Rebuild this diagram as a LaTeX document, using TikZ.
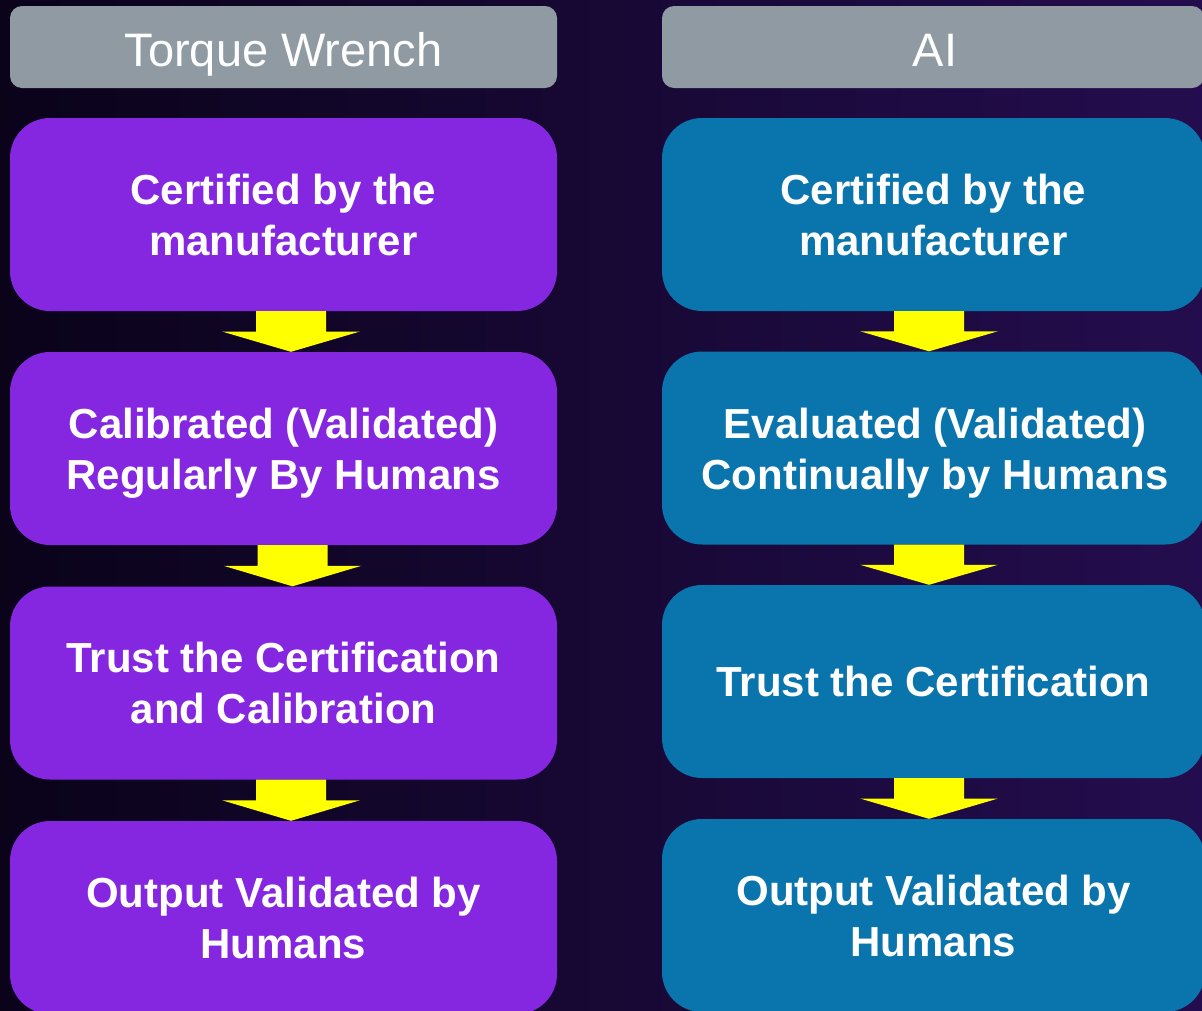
\documentclass[tikz,border=0pt]{standalone}
\usepackage{fontspec}
\setmainfont{Liberation Sans}
\usetikzlibrary{calc}
\definecolor{bgleft}{RGB}{10,3,26}
\definecolor{bgright}{RGB}{36,13,78}
\definecolor{hdrgray}{RGB}{143,154,163}
\definecolor{boxpurple}{RGB}{133,39,225}
\definecolor{boxblue}{RGB}{10,116,173}
\definecolor{arrowyellow}{RGB}{255,255,0}
\tikzset{
  hdrbox/.style={rectangle, rounded corners=12pt, fill=hdrgray, minimum height=82pt, inner sep=0pt},
  hdrtext/.style={text=white, font=\fontsize{47}{56}\selectfont, inner sep=0pt, anchor=base},
  flowbox/.style={rectangle, rounded corners=40pt, minimum height=193pt, inner sep=0pt,
    text=white, align=center, font=\bfseries\fontsize{42}{51}\selectfont},
  leftbox/.style={flowbox, fill=boxpurple, minimum width=547pt},
  rightbox/.style={flowbox, fill=boxblue, minimum width=543pt},
  boxtext/.style={text=white, align=center, inner sep=0pt, font=\bfseries\fontsize{42}{51}\selectfont},
  yarrow/.style={fill=arrowyellow},
}
\begin{document}
\begin{tikzpicture}[x=1pt,y=-1pt]
\useasboundingbox (0,0) rectangle (1202,1010);
\shade[left color=bgleft, right color=bgright] (0,0) rectangle (1202,1010);

% headers
\node[hdrbox, minimum width=547pt] (HL) at (283.5,47) {};
\node[hdrtext] (HLt) at (283.5,66) {Torque Wrench};
\node[hdrbox, minimum width=542pt] (HR) at (933,47) {};
\node[hdrtext] (HRt) at (935,66) {AI};

% left column
\node[leftbox] (L1) at (283.5,214.5) {Certified by the\\manufacturer};
\node[leftbox] (L2) at (283.5,448.5) {};
\node[boxtext] (L2t) at ($(L2)+(0,5)$) {Calibrated (Validated)\\Regularly By Humans};
\node[leftbox] (L3) at (283.5,683) {Trust the Certification\\and Calibration};
\node[leftbox] (L4) at (283.5,917.5) {Output Validated by\\Humans};

% right column
\node[rightbox] (R1) at (933.5,214.5) {Certified by the\\manufacturer};
\node[rightbox] (R2) at (933.5,448) {};
\node[boxtext] (R2t) at ($(R2)+(1.5,5)$) {Evaluated (Validated)\\Continually by Humans};
\node[rightbox] (R3) at (933.5,681.5) {Trust the Certification};
\node[rightbox] (R4) at (933.5,915.5) {Output Validated by\\Humans};

% block arrows
\foreach \a/\b/\dx in {L1/L2/7.5, L2/L3/9, L3/L4/7.5, R1/R2/-4.5, R2/R3/-4.5, R3/R4/-4.5}{
  \fill[yarrow] let \p1=($(\a.south)+(\dx,0)$), \p2=($(\b.north)+(\dx,0)$) in
    (\x1-35,\y1) -- (\x1+35,\y1) -- (\x1+35,{\y1+0.5*(\y2-\y1)}) -- (\x1+69,{\y1+0.5*(\y2-\y1)})
    -- (\x2,\y2) -- (\x1-69,{\y1+0.5*(\y2-\y1)}) -- (\x1-35,{\y1+0.5*(\y2-\y1)}) -- cycle;
}
\end{tikzpicture}
\end{document}
